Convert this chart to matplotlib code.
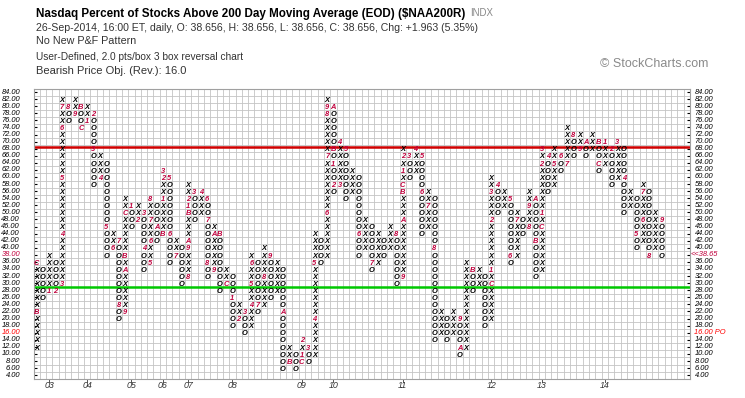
import numpy as np
import matplotlib
matplotlib.use('Agg')
import matplotlib.pyplot as plt
from matplotlib import font_manager as fm
from matplotlib.transforms import blended_transform_factory

# ---------------- data ----------------
first_kind = 'X'
col_low = [12, 26, 28, 28, 30, 76, 78, 74, 76, 58, 60, 38, 40, 20, 22, 46, 48, 34, 36, 42,
           44, 36, 38, 30, 32, 48, 50, 32, 34, 28, 30, 18, 20, 16, 18, 22, 24, 26, 28, 6,
           8, 6, 8, 8, 10, 36, 38, 56, 58, 54, 56, 38, 40, 34, 36, 38, 40, 30, 32, 60,
           62, 44, 46, 14, 16, 14, 16, 10, 12, 28, 30, 18, 20, 50, 52, 36, 38, 44, 46, 32,
           34, 56, 58, 62, 64, 66, 68, 66, 68, 62, 64, 58, 60, 50, 52, 40, 42, 38, 40, 38]
col_high = [36, 34, 38, 36, 82, 80, 82, 80, 80, 78, 66, 64, 44, 42, 54, 52, 52, 50, 54, 52,
            62, 60, 42, 40, 58, 56, 56, 54, 46, 44, 34, 32, 24, 22, 38, 36, 40, 38, 36, 34,
            12, 10, 14, 12, 44, 42, 82, 80, 70, 68, 62, 60, 48, 46, 44, 42, 46, 44, 68, 66,
            68, 66, 56, 54, 22, 20, 22, 20, 36, 34, 34, 32, 60, 58, 56, 54, 50, 48, 56, 54,
            68, 66, 68, 66, 74, 72, 72, 70, 72, 70, 70, 68, 70, 68, 56, 54, 58, 56, 50, 48]
month_marks = [
    (0, 22, 'B'), (0, 36, 'C'), (2, 28, '1'), (3, 28, '2'), (4, 30, '3'), (4, 44, '4'),
    (4, 60, '5'), (4, 74, '6'), (4, 80, '7'), (5, 80, '8'), (6, 78, '9'), (7, 80, 'B'),
    (7, 74, 'C'), (8, 76, '1'), (9, 78, '2'), (9, 68, '3'), (10, 60, '4'), (11, 46, '5'),
    (12, 40, '6'), (13, 42, '7'), (13, 24, '8'), (14, 22, '9'), (14, 34, 'A'), (14, 38, 'B'),
    (14, 50, 'C'), (15, 52, '1'), (16, 48, '2'), (17, 50, '3'), (17, 40, '4'), (18, 36, '5'),
    (18, 42, '6'), (18, 48, '7'), (18, 54, '8'), (19, 46, 'A'), (20, 44, 'B'), (20, 54, '1'),
    (20, 60, '2'), (20, 62, '3'), (21, 60, '5'), (21, 44, '6'), (22, 38, '7'), (24, 32, '8'),
    (24, 40, '9'), (24, 42, 'A'), (24, 50, 'B'), (24, 52, '1'), (24, 54, '2'), (25, 56, '3'),
    (26, 56, '4'), (27, 54, '6'), (27, 48, '7'), (27, 36, '8'), (28, 34, '9'), (28, 44, 'A'),
    (29, 44, 'B'), (30, 30, 'C'), (31, 26, '1'), (32, 20, '2'), (33, 22, '3'), (34, 24, '4'),
    (34, 30, '5'), (34, 36, '6'), (35, 24, '7'), (36, 32, '8'), (37, 38, '9'), (39, 22, 'A'),
    (40, 8, 'B'), (42, 8, 'C'), (42, 10, '1'), (42, 14, '2'), (43, 12, '3'), (44, 20, '4'),
    (44, 36, '5'), (46, 50, '6'), (46, 66, '7'), (46, 78, '8'), (46, 80, '9'), (47, 80, 'A'),
    (47, 68, 'B'), (47, 64, '1'), (47, 58, '2'), (48, 58, '3'), (48, 70, '4'), (49, 68, '5'),
    (51, 44, '6'), (53, 36, '7'), (57, 44, '8'), (58, 32, '9'), (58, 48, 'A'), (58, 56, 'B'),
    (58, 58, 'C'), (58, 62, '1'), (58, 66, '2'), (59, 66, '3'), (60, 68, '4'), (61, 66, '5'),
    (61, 56, '6'), (62, 52, '7'), (63, 40, '8'), (67, 20, '9'), (67, 12, 'A'), (69, 34, 'B'),
    (72, 30, 'C'), (72, 34, '1'), (72, 48, '2'), (72, 56, '3'), (73, 58, '4'), (75, 54, '5'),
    (75, 38, '6'), (76, 48, '7'), (78, 46, '8'), (78, 52, '9'), (79, 54, 'A'), (79, 42, 'B'),
    (80, 46, 'C'), (80, 50, '1'), (80, 64, '2'), (80, 68, '3'), (81, 66, '4'), (82, 64, '5'),
    (83, 66, '6'), (84, 64, '7'), (85, 72, '8'), (86, 68, '9'), (87, 70, 'A'), (89, 70, 'B'),
    (89, 64, 'C'), (90, 70, '1'), (91, 68, '2'), (92, 70, '3'), (93, 60, '4'), (95, 44, '5'),
    (96, 48, '6'), (96, 56, '7'), (97, 38, '8'), (99, 48, '9')]
year_labels = ['03', '04', '05', '06', '07', '08', '09', '10', '11', '12', '13', '14']
level_values = list(range(84, 3, -2))
box_size = 2
last_price = 38.65
last_box = 38
price_objective = 16.0
upper_line = 68.5
lower_line = 29.0
grid_cols = 104

title = "Nasdaq Percent of Stocks Above 200 Day Moving Average (EOD) ($NAA200R)"
info_lines = ["26-Sep-2014, 16:00 ET, daily, O: 38.656, H: 38.656, L: 38.656, C: 38.656, Chg: +1.963 (5.35%)",
              "No New P&F Pattern",
              "User-Defined, 2.0 pts/box 3 box reversal chart",
              "Bearish Price Obj. (Rev.): 16.0"]

# ---------------- figure ----------------
W, H = 745, 398
fig = plt.figure(figsize=(W / 100, H / 100), dpi=100)
fig.patch.set_facecolor('white')


def has_font(name):
    try:
        fm.findfont(fm.FontProperties(family=name), fallback_to_default=False)
        return True
    except Exception:
        return False


NARROW = 'Liberation Sans Narrow' if has_font('Liberation Sans Narrow') else 'Liberation Sans'
SANS = 'Liberation Sans'
MARK = '#c0003c'

left_px, right_px, top_px, bot_px = 33.5, 690.0, 88.5, 378.7
ax = fig.add_axes([left_px / W, 1 - bot_px / H, (right_px - left_px) / W, (bot_px - top_px) / H])
ax.set_xlim(-0.5, grid_cols - 0.5)
ax.set_ylim(3, 85)
ax.set_xticks([])
ax.set_yticks([])
for s in ax.spines.values():
    s.set_color('#a0a0a0')
    s.set_linewidth(0.8)

for x in np.arange(-0.5, grid_cols, 1.0):
    ax.axvline(x, color='#c4c4c4', lw=0.6, zorder=0)
for y in range(3, 86, 2):
    ax.axhline(y, color='#c4c4c4', lw=0.6, zorder=0)

ax.axhline(upper_line, color='#d00000', lw=1.8, zorder=1)
ax.axhline(lower_line, color='#00c800', lw=1.8, zorder=1)

# small tick dashes on both sides
for v in level_values:
    ax.plot([-0.5, 0.05], [v, v], color='black', lw=0.8, zorder=2, solid_capstyle='butt')
    ax.plot([grid_cols - 1.05, grid_cols - 0.5], [v, v], color='black', lw=0.8, zorder=2,
            solid_capstyle='butt')

# X / O boxes (font kept small enough that neighbouring boxes do not collide)
fs_box = 5.4
px_per_unit = (bot_px - top_px) / (85 - 3)
base_off = (0.716 * fs_box * 100 / 72) / 2 / px_per_unit
marks = {(c, v): ch for c, v, ch in month_marks}
kind = first_kind
for i, (lo, hi) in enumerate(zip(col_low, col_high)):
    for v in range(lo, hi + 1, box_size):
        ch = marks.get((i, v))
        color = MARK if ch else 'black'
        ax.text(i, v - base_off, ch if ch else kind, ha='center', va='baseline',
                fontsize=fs_box, fontstyle='italic', fontweight='bold', family=SANS,
                color=color, zorder=3)
    kind = 'O' if kind == 'X' else 'X'

# year labels at columns where January marker appears
year_cols = [c for c, v, ch in month_marks if ch == '1']
for c, lab in zip(year_cols, year_labels):
    ax.plot([c, c], [3, 2.1], color='#555555', lw=0.7, clip_on=False)
    ax.text(c, 3 - 7.0 / px_per_unit, lab, ha='center', va='center', fontsize=6.4,
            fontstyle='italic', family=SANS, color='#333333', clip_on=False)

# level labels
trL = blended_transform_factory(fig.transFigure, ax.transData)
fs_lab = 5.4
for v in level_values:
    col = 'black'
    txt = f"{v:.2f}"
    if v == last_box:
        col = MARK
    if v == round(price_objective):
        col = '#ff0000'
    fig.text(20.0 / W, v, txt, transform=trL, ha='right', va='center', fontsize=fs_lab,
             fontstyle='italic', family=SANS, color=col)
    rtxt, rcol, rx = txt, 'black', 694.5
    if v == last_box:
        rtxt, rcol, rx = f"<<{last_price:.2f}", MARK, 691.0
    if v == round(price_objective):
        rtxt, rcol = f"{price_objective:.2f} PO", '#ff0000'
    fig.text(rx / W, v, rtxt, transform=trL, ha='left', va='center', fontsize=fs_lab,
             fontstyle='italic', family=SANS, color=rcol)

# header
renderer = fig.canvas.get_renderer()


def fit_text(x_px, y_px, s, width_px, base=10.0, **kw):
    t = fig.text(x_px / W, 1 - y_px / H, s, fontsize=base, va='center', ha='left', **kw)
    bb = t.get_window_extent(renderer=renderer)
    t.set_fontsize(base * width_px / bb.width)
    return t


fit_text(36, 13.5, title, 428, family=NARROW, fontweight='bold', color='black')
fit_text(470, 13.5, "INDX", 23, family=SANS, color='#888888')
fit_text(36, 28, info_lines[0], 442, family=NARROW, color='#333333')
fit_text(36, 41, info_lines[1], 100, family=NARROW, color='#333333')
fit_text(36, 57, info_lines[2], 208, family=NARROW, color='#333333')
fit_text(36, 71.5, info_lines[3], 150, family=NARROW, color='#333333')
fit_text(600, 64, "\u00a9 StockCharts.com", 108, family=SANS, color='#8a8a8a')

fig.savefig('out.png', dpi=100, facecolor='white')
